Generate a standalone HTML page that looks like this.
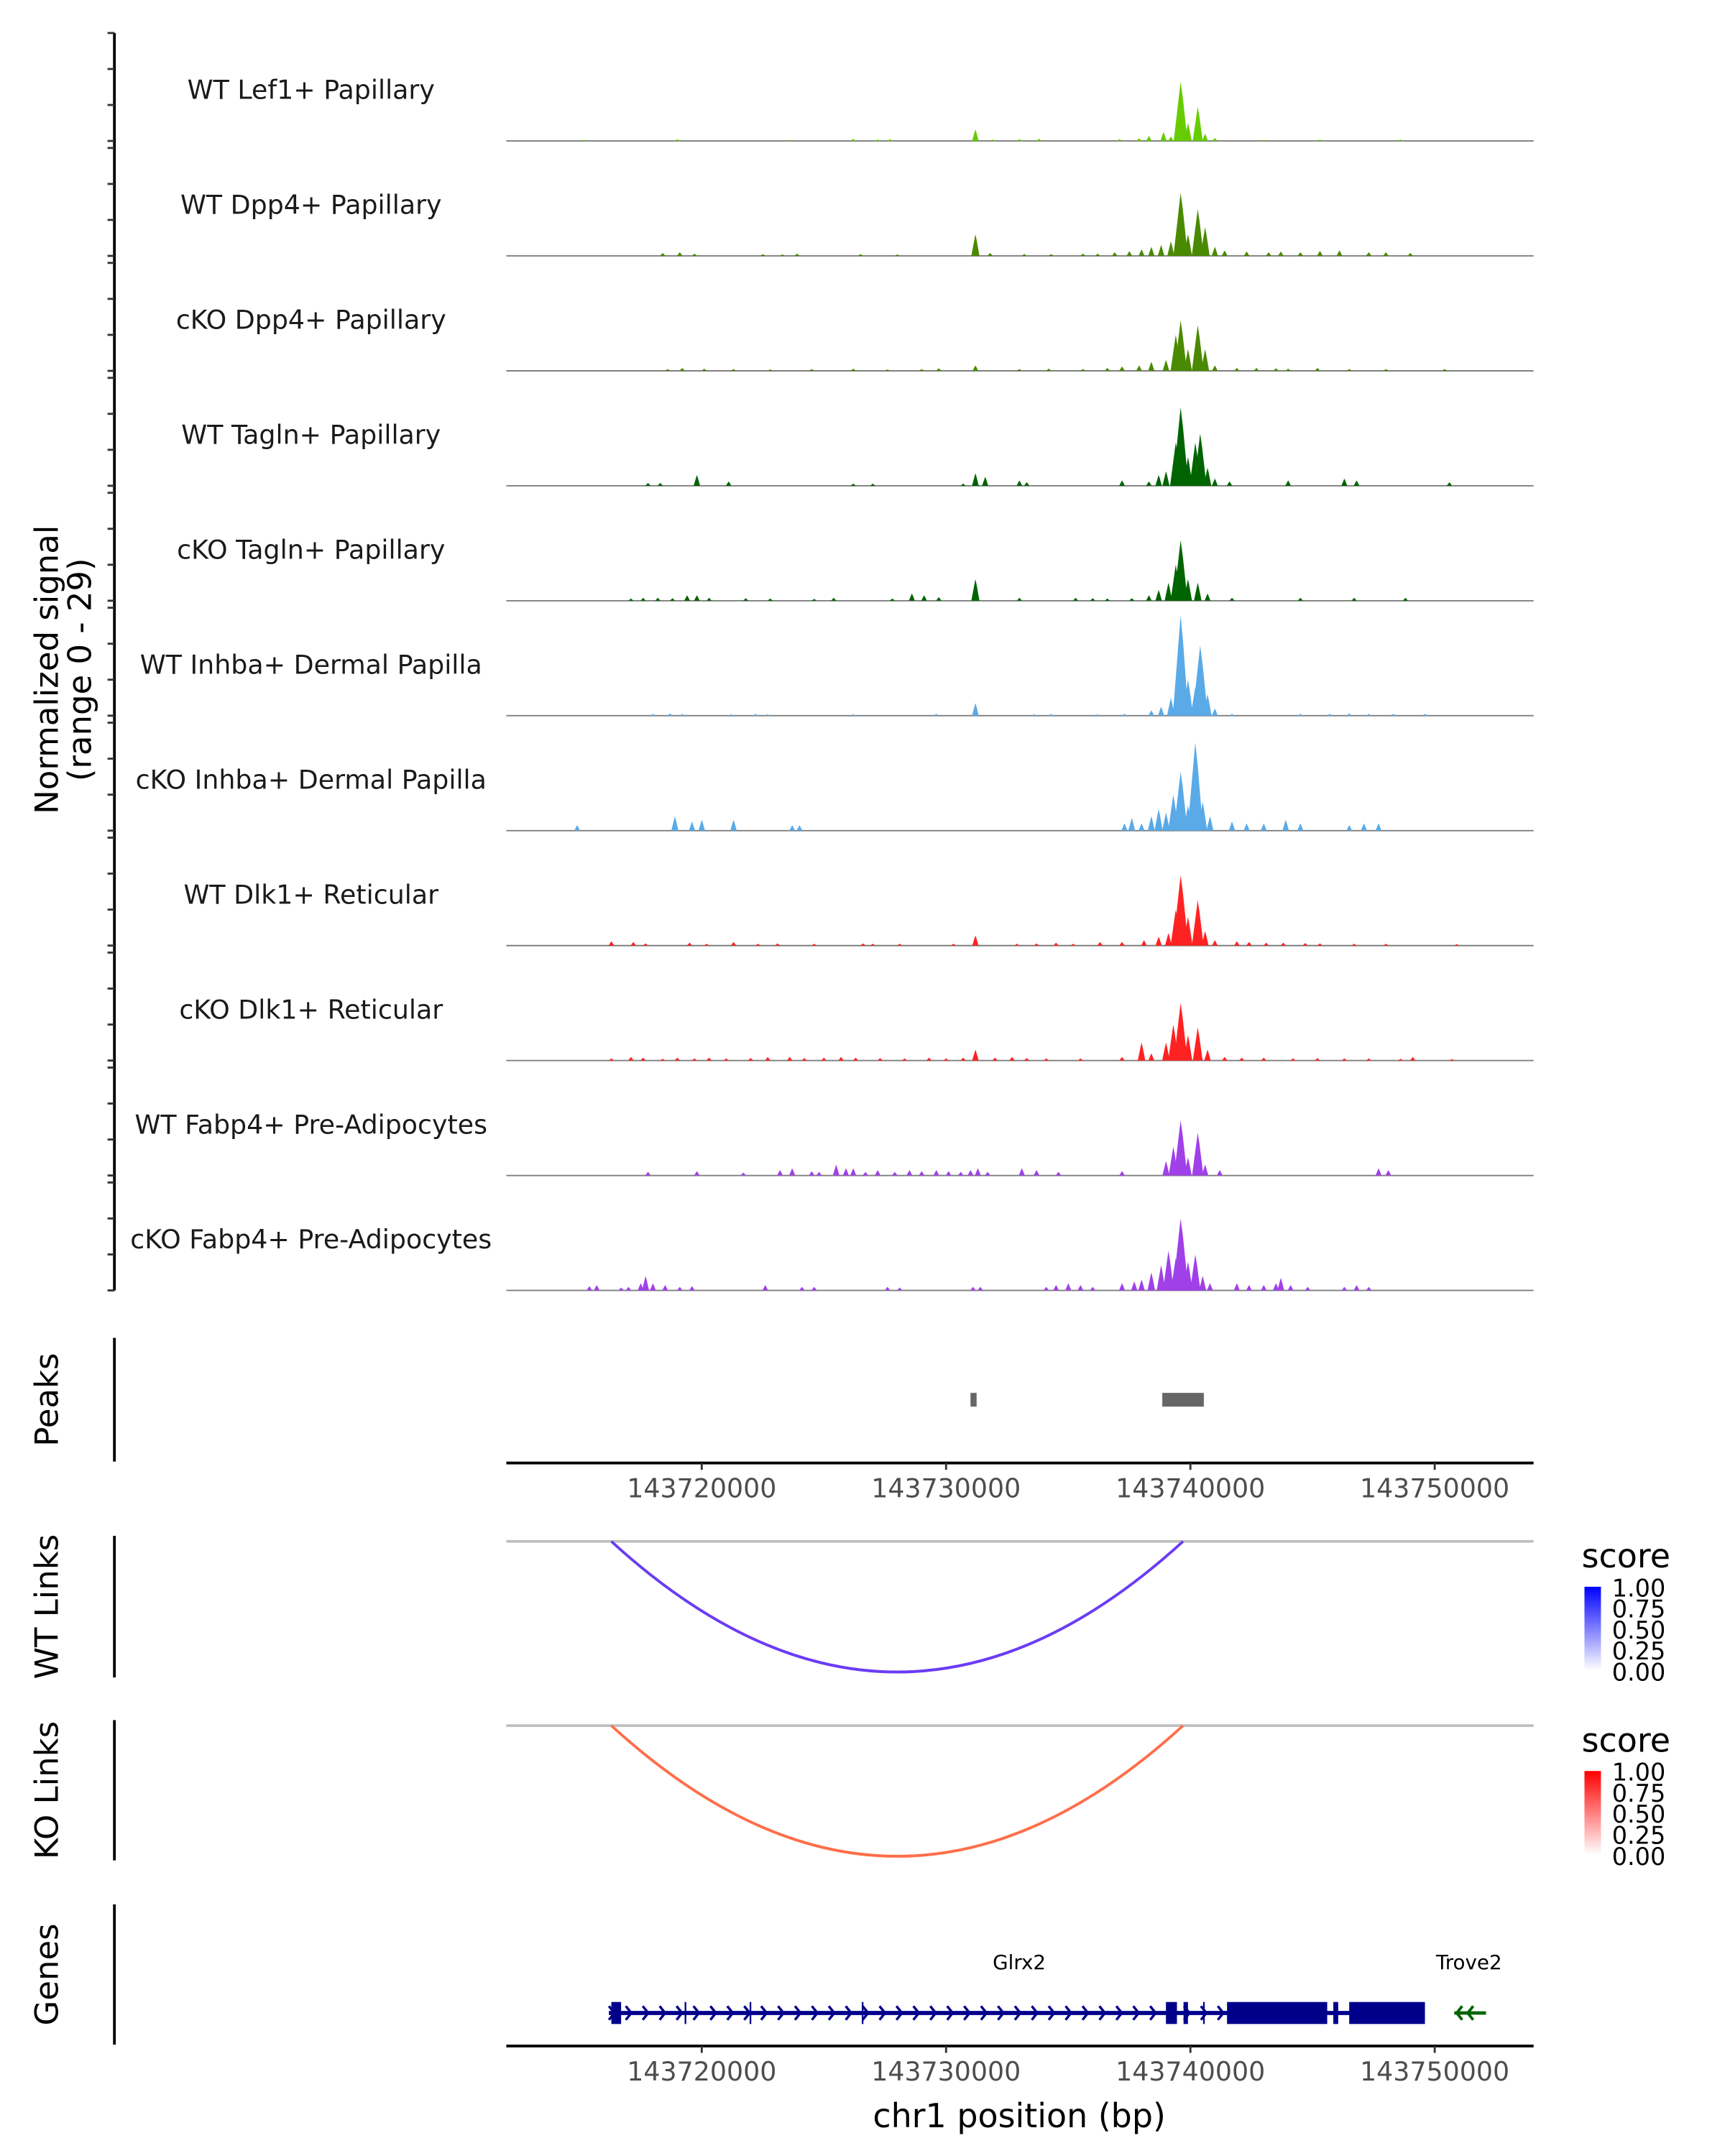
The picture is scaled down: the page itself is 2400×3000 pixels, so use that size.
<!DOCTYPE html>
<html><head><meta charset="utf-8"><title>Coverage plot</title>
<style>
html,body{margin:0;padding:0;background:#fff;}
svg{display:block;font-family:"DejaVu Sans","Liberation Sans",sans-serif;}
</style></head>
<body>
<svg id="fig" xmlns="http://www.w3.org/2000/svg" width="2400" height="3000" viewBox="0 0 1254 1568">
<defs>
<linearGradient id="gBlue" x1="0" y1="1" x2="0" y2="0"><stop offset="0" stop-color="#ffffff"/><stop offset="1" stop-color="#0000ff"/></linearGradient>
<linearGradient id="gRed" x1="0" y1="1" x2="0" y2="0"><stop offset="0" stop-color="#ffffff"/><stop offset="1" stop-color="#ff0000"/></linearGradient>
</defs>
<g id="tracks"></g>
<g id="rest"></g>
</svg>
<script>
// ---- data (positions are kb offsets from chr1:143,698,700) ----
const trackNames = ["WT Lef1+ Papillary","WT Dpp4+ Papillary","cKO Dpp4+ Papillary","WT Tagln+ Papillary","cKO Tagln+ Papillary","WT Inhba+ Dermal Papilla","cKO Inhba+ Dermal Papilla","WT Dlk1+ Reticular","cKO Dlk1+ Reticular","WT Fabp4+ Pre-Adipocytes","cKO Fabp4+ Pre-Adipocytes"];
const trackColors = ["#66cc00","#4a8a00","#4a8a00","#006400","#006400","#5aaae8","#5aaae8","#ff2222","#ff2222","#a040e8","#a040e8"];
const sigLef1WT = [[16.5,.3],[20.3,.5],[24.9,.3],[27.5,.6],[28.5,.4],[29.0,.5],[32.5,3.2],[33.2,.4],[34.3,.5],[35.1,.6],[38.4,.5],[39.2,.7],[39.6,1.4],[40.2,2.5],[40.5,1.2],[40.9,16.5],[41.2,5],[41.6,9.5],[41.9,2],[42.3,.8],[44.3,.3],[46.6,.4],[49.9,.4]];
const sigDpp4WT = [[19.7,.8],[20.4,1],[21.0,.6],[23.8,.5],[24.6,.4],[25.2,.6],[27.8,.5],[29.3,.4],[32.5,6],[33.1,.8],[34.5,.5],[35.6,.5],[36.9,.6],[37.5,.6],[38.2,1],[38.8,1.3],[39.3,1.8],[39.7,2.5],[40.1,3],[40.5,4],[40.9,17.5],[41.2,6],[41.6,13],[41.9,8],[42.3,2.5],[42.7,1.5],[43.6,1.2],[44.5,1],[45.0,1.2],[45.8,1],[46.6,1.4],[47.4,1.5],[48.6,1],[49.3,1],[50.3,.8]];
const sigDpp4KO = [[19.9,.5],[20.5,.8],[21.4,.6],[22.6,.5],[24.1,.4],[25.8,.5],[27.5,.6],[28.9,.4],[30.3,.5],[31.0,.7],[32.5,1.5],[34.3,.5],[35.5,.6],[36.9,.5],[37.9,.8],[38.5,1.2],[39.2,1.5],[39.7,2.5],[40.3,3],[40.7,10],[40.9,14],[41.2,6],[41.6,12.7],[41.9,6],[42.3,1.5],[43.2,.8],[44.0,.8],[44.8,.7],[45.3,.6],[46.5,.8],[47.8,.5],[49.3,.5],[51.7,.5]];
const sigTaglnWT = [[19.1,.8],[19.6,.8],[21.1,3],[22.4,1.2],[27.5,.6],[28.3,.6],[32.0,.6],[32.5,3.5],[32.9,2.5],[34.3,1.5],[34.6,1],[38.5,1.5],[39.6,1.2],[40.0,3],[40.3,4],[40.7,12],[40.9,21.8],[41.2,8],[41.5,12],[41.7,14.5],[42.0,5],[42.3,2],[42.9,1.2],[45.3,1.5],[47.6,2],[48.1,1.5],[51.9,1]];
const sigTaglnKO = [[18.4,.6],[18.9,.8],[19.5,.8],[20.1,.7],[20.7,1.5],[21.1,1.5],[21.6,.8],[23.1,.7],[24.1,.6],[25.9,.5],[26.7,.8],[29.1,.6],[29.9,2],[30.4,1.5],[31.0,1],[32.5,6],[34.3,.8],[36.6,.8],[37.3,.7],[37.9,.6],[38.9,.7],[39.6,1.5],[40.0,3],[40.4,5],[40.7,10],[40.9,16.8],[41.2,6],[41.6,5],[42.0,2],[43.0,.8],[45.8,.8],[48.0,.8],[50.1,.8]];
const sigInhbaWT = [[19.3,.5],[20.0,.6],[20.5,.5],[22.5,.4],[23.5,.5],[24.0,.4],[27.5,.4],[30.9,.5],[32.5,3.5],[34.9,.4],[35.6,.5],[37.5,.4],[38.6,.5],[39.7,1.5],[40.1,2.5],[40.5,5],[40.9,27.9],[41.2,10],[41.5,8],[41.7,19.5],[42.0,6],[42.3,2],[43.0,.5],[45.8,.5],[47.0,.5],[47.8,.6],[48.6,.5],[49.6,.5],[50.9,.5]];
const sigInhbaKO = [[16.2,1.5],[20.2,4],[20.9,2.5],[21.3,3],[22.6,3],[25.0,1.5],[25.3,1.5],[38.6,2],[38.9,3.5],[39.3,2],[39.7,4],[40.0,6],[40.3,5],[40.6,10],[40.9,16.4],[41.2,7],[41.5,24.5],[41.8,8],[42.1,4],[43.0,2.5],[43.6,2],[44.3,2],[45.2,3],[45.8,2],[47.8,1.5],[48.4,2],[49.0,2]];
const sigDlk1WT = [[17.6,1.2],[18.5,1],[19.0,.6],[20.8,.8],[21.5,.5],[22.6,1],[23.6,.5],[24.4,.6],[25.9,.5],[27.9,.6],[28.3,.5],[29.4,.5],[31.6,.5],[32.5,2.8],[34.2,.5],[35.0,.6],[35.8,.8],[36.5,.5],[37.6,1],[38.5,1],[39.4,1.5],[40.0,2.5],[40.4,3.5],[40.7,10],[40.9,19.5],[41.2,8],[41.6,12.6],[41.9,4],[42.3,1.5],[43.2,1.2],[43.7,1],[44.4,.8],[45.1,.8],[46.0,.7],[46.6,.6],[48.0,.5],[49.3,.5],[52.2,.4]];
const sigDlk1KO = [[17.6,.6],[18.4,1],[18.9,.8],[19.7,.5],[20.3,.8],[21.0,.6],[21.6,.8],[22.3,.6],[23.3,.7],[24.0,1],[24.9,1],[25.5,.7],[26.3,.8],[27.0,1],[27.6,.8],[28.6,.7],[29.6,.6],[30.6,.8],[31.3,.6],[32.0,.8],[32.5,3],[33.3,.8],[34.0,1],[34.6,.7],[35.4,.6],[36.8,.6],[38.5,1],[39.3,5],[39.7,2],[40.3,5],[40.6,10],[40.9,16],[41.2,7],[41.6,9.2],[42.0,3],[42.7,1],[43.4,.8],[44.3,.8],[45.5,.6],[46.5,.7],[47.6,.6],[48.6,.6],[49.9,.5],[50.4,1],[52.0,.4]];
const sigFabp4WT = [[19.1,1],[21.1,1.2],[23.0,.8],[24.5,1.5],[25.0,2],[25.8,1.2],[26.1,1],[26.8,3],[27.2,2],[27.5,2],[28.0,1],[28.5,1.5],[29.2,1],[29.8,1.5],[30.3,1.2],[30.9,1.5],[31.4,1.2],[31.9,1],[32.3,1.5],[32.6,2],[33.0,1],[34.4,2],[35.0,1.5],[35.9,1],[38.5,1.2],[40.3,4],[40.6,8],[40.9,15.3],[41.2,5],[41.6,11.9],[41.9,3],[42.5,1.5],[49.0,2],[49.4,1.5]];
const sigFabp4KO = [[16.7,1.2],[17.0,1.5],[18.0,.8],[18.3,1],[18.8,2],[19.0,4],[19.3,2],[19.8,1.5],[20.4,1],[20.9,1.2],[23.9,1.5],[25.4,1],[25.9,1],[28.9,1],[29.4,.8],[32.4,1],[32.7,1],[35.4,1],[35.8,1.5],[36.3,2],[36.8,1.5],[37.3,1],[38.5,2],[39.0,2.5],[39.3,3],[39.7,5],[40.1,7],[40.4,11],[40.7,9],[40.9,20],[41.2,8],[41.5,10],[41.8,4],[42.1,2],[43.2,2],[43.7,1.5],[44.3,1.5],[44.8,2],[45.0,3.5],[45.4,1.5],[46.1,1],[47.6,1],[48.1,1.5],[48.6,1]];
const trackSignals = [sigLef1WT,sigDpp4WT,sigDpp4KO,sigTaglnWT,sigTaglnKO,sigInhbaWT,sigInhbaKO,sigDlk1WT,sigDlk1KO,sigFabp4WT,sigFabp4KO];
const xTicks = [21.3,31.3,41.3,51.3];
const xTickLabels = ["143720000","143730000","143740000","143750000"];
const peakRegions = [[32.3,32.55],[40.15,41.85]];
const wtLinks = [[17.6,41.0,0.7]];
const koLinks = [[17.6,41.0,0.7]];
const legendLabels = ["1.00","0.75","0.50","0.25","0.00"];
const glrx2Span = [17.5,50.9];
const glrx2Exons = [[17.6,18.0],[20.6,20.66],[23.26,23.32],[27.85,27.91],[40.3,40.75],[41.02,41.2],[41.82,41.88],[42.8,46.9],[47.15,47.35],[47.8,50.9]];
const trove2Span = [52.1,53.4];

// ---- scales ----
const SX0 = 487, SPX = 17.767;
function xs(kb){ return SX0 + (kb-20)*SPX; }
const YMAX = 30, TRACK_H = 78.5, TRACK_STEP = 83.6, TRACK_TOP0 = 24;
function trackTop(i){ return TRACK_TOP0 + i*TRACK_STEP; }
function ys(v,i){ return trackTop(i) + TRACK_H - v*TRACK_H/YMAX; }
const PX0 = 368, PX1 = 1115;

const NS = "http://www.w3.org/2000/svg";
function mk(tag, attrs, parent){ const e=document.createElementNS(NS,tag); for(const k in attrs) e.setAttribute(k,attrs[k]); parent.appendChild(e); return e; }
const tracksG = document.getElementById('tracks');
const restG = document.getElementById('rest');

let ax = mk('line',{x1:83,y1:TRACK_TOP0,x2:83,y2:trackTop(10)+TRACK_H,stroke:'#000','stroke-width':2},tracksG);


for(let i=0;i<11;i++){
  for(let k=0;k<=3;k++){
    const y = ys(k*10,i);
    const t = mk('line',{x1:78,y1:y,x2:83,y2:y,stroke:'#333','stroke-width':1.5},tracksG);
    
    
  }
}
let yt = mk('text',{x:0,y:0,'font-size':23.5,'text-anchor':'middle',transform:'translate(42,487) rotate(-90)'},tracksG);
yt.textContent = 'Normalized signal';


let yt2 = mk('text',{x:0,y:0,'font-size':23.5,'text-anchor':'middle',transform:'translate(66,487) rotate(-90)'},tracksG);
yt2.textContent = '(range 0 - 29)';



for(let i=0;i<trackNames.length;i++){
  const g = mk('g',{},tracksG);
  
  
  const lb = mk('text',{x:226,y:trackTop(i)+48,'font-size':19,'text-anchor':'middle',fill:'#1a1a1a'},g);
  lb.textContent = trackNames[i];
  
  
  const base = ys(0,i);
  const bl = mk('line',{x1:PX0,y1:base,x2:PX1,y2:base,stroke:'#808080','stroke-width':1},g);
  
  
  trackSignals[i].forEach(p=>{
    const hw = 0.1 + Math.min(p[1],20)*0.011;
    const pts = [[xs(p[0]-hw),base],[xs(p[0]-hw*0.3),ys(p[1]*0.7,i)],[xs(p[0]),ys(p[1],i)],[xs(p[0]+hw*0.3),ys(p[1]*0.75,i)],[xs(p[0]+hw),base]];
    const pg = mk('polygon',{points:pts.map(q=>q.join(',')).join(' '),fill:trackColors[i]},g);
    
    
  });
}

function leftAxis(y1,y2,label,name){
  const l = mk('line',{x1:83,y1:y1,x2:83,y2:y2,stroke:'#000','stroke-width':2},restG);
  
  
  const t = mk('text',{x:0,y:0,'font-size':23.5,'text-anchor':'middle',transform:'translate(42,'+((y1+y2)/2)+') rotate(-90)'},restG);
  t.textContent = label;
  
  
}
leftAxis(973,1063,'Peaks','peaks');
peakRegions.forEach(r=>{
  const rc = mk('rect',{x:xs(r[0]),y:1013,width:xs(r[1])-xs(r[0]),height:10,fill:'#666666'},restG);
  
  
});
function xAxis(y,name){
  const l = mk('line',{x1:PX0,y1:y,x2:PX1,y2:y,stroke:'#000','stroke-width':2},restG);
  
  
  xTicks.forEach((t,j)=>{
    const tk = mk('line',{x1:xs(t),y1:y,x2:xs(t),y2:y+5,stroke:'#333','stroke-width':1.5},restG);
    
    
    const tl = mk('text',{x:xs(t),y:y+25,'font-size':19,'text-anchor':'middle',fill:'#4d4d4d'},restG);
    tl.textContent = xTickLabels[j];
    
    
  });
}
xAxis(1064,'peaks-x-axis');

function linkPanel(y0,axY1,axY2,label,name,links,color,grad){
  leftAxis(axY1,axY2,label,name);
  const gl = mk('line',{x1:PX0,y1:y0,x2:PX1,y2:y0,stroke:'#bfbfbf','stroke-width':2},restG);
  
  
  links.forEach(k=>{
    const xa=xs(k[0]), xb=xs(k[1]);
    const d = 'M'+xa+','+y0+' Q'+((xa+xb)/2)+','+(y0+190)+' '+xb+','+y0;
    const p = mk('path',{d:d,fill:'none',stroke:color,'stroke-width':2},restG);
    
    
  });
  const ly = y0+12;
  const st = mk('text',{x:1150,y:ly+7,'font-size':24},restG);
  st.textContent='score';
  
  
  const bar = mk('rect',{x:1152,y:ly+21,width:12,height:61,fill:'url(#'+grad+')'},restG);
  
  
  legendLabels.forEach((s,j)=>{
    const t = mk('text',{x:1172,y:ly+28+j*15.3,'font-size':17.5},restG);
    t.textContent=s;
    
    
  });
}
linkPanel(1121,1117,1220,'WT Links','wt-links',wtLinks,'#6a3cf5','gBlue');
linkPanel(1255,1251,1353,'KO Links','ko-links',koLinks,'#ff6e4a','gRed');

leftAxis(1385,1487,'Genes','genes');
const gy = 1464, navy='#00008b';
const gl = mk('line',{x1:xs(glrx2Span[0]),y1:gy,x2:xs(glrx2Span[1]),y2:gy,stroke:navy,'stroke-width':3},restG);


for(let x=xs(glrx2Span[0])+2; x<xs(42.8); x+=12.3){
  const c = mk('polyline',{points:(x-2)+','+(gy-5)+' '+(x+2)+','+gy+' '+(x-2)+','+(gy+5),fill:'none',stroke:navy,'stroke-width':1.8},restG);
  
  
}
glrx2Exons.forEach(e=>{
  const w = Math.max(1.2, xs(e[1])-xs(e[0]));
  const r = mk('rect',{x:xs(e[0]),y:gy-8,width:w,height:16,fill:navy},restG);
  
  
});
const t2 = mk('line',{x1:xs(trove2Span[0]),y1:gy,x2:xs(trove2Span[1]),y2:gy,stroke:'#006400','stroke-width':2.5},restG);


[trove2Span[0]+0.1, trove2Span[0]+0.55].forEach(k=>{
  const c = mk('polyline',{points:(xs(k)+4)+','+(gy-5)+' '+xs(k)+','+gy+' '+(xs(k)+4)+','+(gy+5),fill:'none',stroke:'#006400','stroke-width':2},restG);
  
  
});
const gn1 = mk('text',{x:741,y:1432,'font-size':14.5,'text-anchor':'middle'},restG);
gn1.textContent='Glrx2';


const gn2 = mk('text',{x:1068,y:1432,'font-size':14.5,'text-anchor':'middle'},restG);
gn2.textContent='Trove2';


xAxis(1488,'genes-x-axis');
const xt = mk('text',{x:741,y:1547,'font-size':24,'text-anchor':'middle'},restG);
xt.textContent='chr1 position (bp)';


</script>
</body></html>
